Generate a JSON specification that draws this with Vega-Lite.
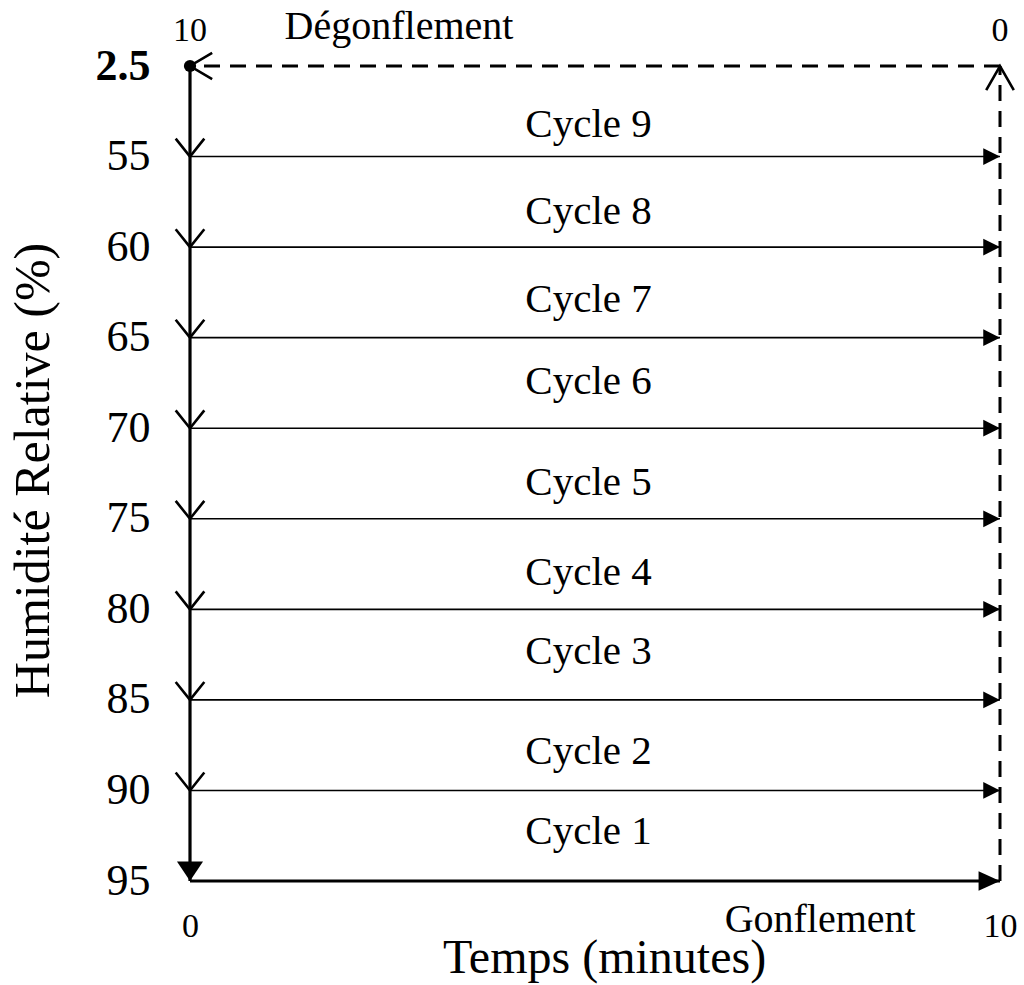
{
  "$schema": "https://vega.github.io/schema/vega-lite/v6.json",
  "width": 810,
  "height": 815,
  "autosize": {"type": "none"},
  "padding": {"left": 190, "top": 66, "right": 24, "bottom": 104},
  "background": "white",
  "config": {
    "view": {"stroke": null},
    "font": "Liberation Serif",
    "text": {"font": "Liberation Serif", "color": "black"}
  },
  "datasets": {
    "segments": [
      {"x": 0, "x2": 10, "y": 1, "y2": 1, "kind": "cycle"},
      {"x": 0, "x2": 10, "y": 2, "y2": 2, "kind": "cycle"},
      {"x": 0, "x2": 10, "y": 3, "y2": 3, "kind": "cycle"},
      {"x": 0, "x2": 10, "y": 4, "y2": 4, "kind": "cycle"},
      {"x": 0, "x2": 10, "y": 5, "y2": 5, "kind": "cycle"},
      {"x": 0, "x2": 10, "y": 6, "y2": 6, "kind": "cycle"},
      {"x": 0, "x2": 10, "y": 7, "y2": 7, "kind": "cycle"},
      {"x": 0, "x2": 10, "y": 8, "y2": 8, "kind": "cycle"},
      {"x": 0, "x2": 10, "y": 9, "y2": 9, "kind": "bold"},
      {"x": 0, "x2": 0, "y": 0, "y2": 9, "kind": "bold"},
      {"x": 10, "x2": 10, "y": 9, "y2": 0, "kind": "dash"},
      {"x": 10, "x2": 0, "y": 0, "y2": 0, "kind": "dash"}
    ],
    "heads": [
      {"x": 0, "y": 1, "head": "vdown"},
      {"x": 0, "y": 2, "head": "vdown"},
      {"x": 0, "y": 3, "head": "vdown"},
      {"x": 0, "y": 4, "head": "vdown"},
      {"x": 0, "y": 5, "head": "vdown"},
      {"x": 0, "y": 6, "head": "vdown"},
      {"x": 0, "y": 7, "head": "vdown"},
      {"x": 0, "y": 8, "head": "vdown"},
      {"x": 0, "y": 9, "head": "tridown"},
      {"x": 10, "y": 1, "head": "triright"},
      {"x": 10, "y": 2, "head": "triright"},
      {"x": 10, "y": 3, "head": "triright"},
      {"x": 10, "y": 4, "head": "triright"},
      {"x": 10, "y": 5, "head": "triright"},
      {"x": 10, "y": 6, "head": "triright"},
      {"x": 10, "y": 7, "head": "triright"},
      {"x": 10, "y": 8, "head": "triright"},
      {"x": 10, "y": 9, "head": "bigright"},
      {"x": 10, "y": 0, "head": "vup"},
      {"x": 0, "y": 0, "head": "vleft"},
      {"x": 0, "y": 0, "head": "dot"}
    ],
    "labels": [
      {"x": 4.92, "y": 0.784, "label": "Cycle 9", "kind": "cycle"},
      {"x": 4.92, "y": 1.745, "label": "Cycle 8", "kind": "cycle"},
      {"x": 4.92, "y": 2.716, "label": "Cycle 7", "kind": "cycle"},
      {"x": 4.92, "y": 3.622, "label": "Cycle 6", "kind": "cycle"},
      {"x": 4.92, "y": 4.737, "label": "Cycle 5", "kind": "cycle"},
      {"x": 4.92, "y": 5.731, "label": "Cycle 4", "kind": "cycle"},
      {"x": 4.92, "y": 6.603, "label": "Cycle 3", "kind": "cycle"},
      {"x": 4.92, "y": 7.707, "label": "Cycle 2", "kind": "cycle"},
      {"x": 4.92, "y": 8.591, "label": "Cycle 1", "kind": "cycle"},
      {"x": 0, "y": -0.28, "label": "10", "kind": "num"},
      {"x": 10, "y": -0.28, "label": "0", "kind": "num"},
      {"x": 2.58, "y": -0.3, "label": "Dégonflement", "kind": "word"},
      {"x": 7.78, "y": 9.563, "label": "Gonflement", "kind": "word"}
    ]
  },
  "encoding": {
    "x": {
      "field": "x",
      "type": "quantitative",
      "scale": {"domain": [0, 10], "nice": false, "zero": false},
      "axis": {
        "values": [0, 10],
        "grid": false,
        "domain": false,
        "ticks": false,
        "tickSize": 0,
        "labelFlush": false,
        "labelFont": "Liberation Serif",
        "labelFontSize": 34,
        "labelColor": "black",
        "labelBaseline": "alphabetic",
        "labelPadding": 55,
        "title": "Temps (minutes)",
        "titleFont": "Liberation Serif",
        "titleFontSize": 48,
        "titleFontWeight": "normal",
        "titleColor": "black",
        "titleX": 414,
        "titleY": 77,
        "titleBaseline": "middle",
        "titleAlign": "center"
      }
    },
    "y": {
      "field": "y",
      "type": "quantitative",
      "scale": {"domain": [0, 9], "nice": false, "zero": false, "reverse": true},
      "axis": {
        "values": [0, 1, 2, 3, 4, 5, 6, 7, 8, 9],
        "labelExpr": "['2.5','55','60','65','70','75','80','85','90','95'][datum.value]",
        "grid": false,
        "domain": false,
        "ticks": false,
        "tickSize": 0,
        "labelFlush": false,
        "labelFont": "Liberation Serif",
        "labelFontSize": 44,
        "labelFontWeight": {"condition": {"test": "datum.value == 0", "value": "bold"}, "value": "normal"},
        "labelColor": "black",
        "labelPadding": 40,
        "title": "Humidité Relative (%)",
        "titleFont": "Liberation Serif",
        "titleFontSize": 50,
        "titleFontWeight": "normal",
        "titleColor": "black",
        "titleX": -157,
        "titleY": 404,
        "titleAngle": -90,
        "titleBaseline": "middle",
        "titleAlign": "center"
      }
    }
  },
  "layer": [
    {
      "data": {"name": "segments"},
      "transform": [{"filter": "datum.kind == 'cycle'"}],
      "mark": {"type": "rule", "color": "black", "strokeWidth": 1.6},
      "encoding": {"x2": {"field": "x2"}, "y2": {"field": "y2"}}
    },
    {
      "data": {"name": "segments"},
      "transform": [{"filter": "datum.kind == 'bold'"}],
      "mark": {"type": "rule", "color": "black", "strokeWidth": 3.2},
      "encoding": {"x2": {"field": "x2"}, "y2": {"field": "y2"}}
    },
    {
      "data": {"name": "segments"},
      "transform": [{"filter": "datum.kind == 'dash'"}],
      "mark": {"type": "rule", "color": "black", "strokeWidth": 3, "strokeDash": [16, 10]},
      "encoding": {"x2": {"field": "x2"}, "y2": {"field": "y2"}}
    },
    {
      "data": {"name": "heads"},
      "transform": [{"filter": "datum.head == 'vdown'"}],
      "mark": {"type": "point", "shape": "M-1,-1.25L0,0L1,-1.25", "size": 820, "filled": false, "stroke": "black", "strokeWidth": 2.6, "opacity": 1}
    },
    {
      "data": {"name": "heads"},
      "transform": [{"filter": "datum.head == 'tridown'"}],
      "mark": {"type": "point", "shape": "M-1,-1.5L0,0L1,-1.5Z", "size": 680, "filled": true, "color": "black", "opacity": 1}
    },
    {
      "data": {"name": "heads"},
      "transform": [{"filter": "datum.head == 'triright'"}],
      "mark": {"type": "point", "shape": "M0,0L-2,-1L-2,1Z", "size": 280, "filled": true, "color": "black", "opacity": 1}
    },
    {
      "data": {"name": "heads"},
      "transform": [{"filter": "datum.head == 'bigright'"}],
      "mark": {"type": "point", "shape": "M0,0L-2.2,-1L-2.2,1Z", "size": 380, "filled": true, "color": "black", "opacity": 1}
    },
    {
      "data": {"name": "heads"},
      "transform": [{"filter": "datum.head == 'vup'"}],
      "mark": {"type": "point", "shape": "M-1,1.75L0,0L1,1.75", "size": 760, "filled": false, "stroke": "black", "strokeWidth": 2.6, "opacity": 1}
    },
    {
      "data": {"name": "heads"},
      "transform": [{"filter": "datum.head == 'vleft'"}],
      "mark": {"type": "point", "shape": "M1.7,-1L0,0L1.7,1", "size": 680, "filled": false, "stroke": "black", "strokeWidth": 2.6, "opacity": 1}
    },
    {
      "data": {"name": "heads"},
      "transform": [{"filter": "datum.head == 'dot'"}],
      "mark": {"type": "point", "shape": "circle", "size": 150, "filled": true, "color": "black", "opacity": 1}
    },
    {
      "data": {"name": "labels"},
      "transform": [{"filter": "datum.kind == 'cycle'"}],
      "mark": {"type": "text", "fontSize": 41, "baseline": "alphabetic", "align": "center", "color": "black"},
      "encoding": {"text": {"field": "label"}}
    },
    {
      "data": {"name": "labels"},
      "transform": [{"filter": "datum.kind == 'num'"}],
      "mark": {"type": "text", "fontSize": 34, "baseline": "alphabetic", "align": "center", "color": "black"},
      "encoding": {"text": {"field": "label"}}
    },
    {
      "data": {"name": "labels"},
      "transform": [{"filter": "datum.kind == 'word'"}],
      "mark": {"type": "text", "fontSize": 40, "baseline": "alphabetic", "align": "center", "color": "black"},
      "encoding": {"text": {"field": "label"}}
    }
  ]
}
